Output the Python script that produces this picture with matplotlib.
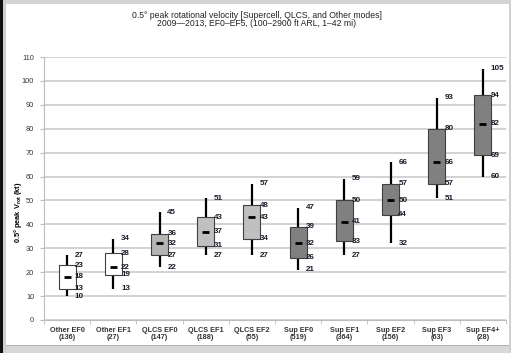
import matplotlib
matplotlib.use("Agg")
import matplotlib.pyplot as plt
from matplotlib.patches import Rectangle
import numpy as np

categories = ["Other EF0", "Other EF1", "QLCS EF0", "QLCS EF1", "QLCS EF2",
              "Sup EF0", "Sup EF1", "Sup EF2", "Sup EF3", "Sup EF4+"]
counts = [136, 27, 147, 188, 55, 519, 364, 156, 63, 28]
whisker_low = [10, 13, 22, 27, 27, 21, 27, 32, 51, 60]
q1 = [13, 19, 27, 31, 34, 26, 33, 44, 57, 69]
median = [18, 22, 32, 37, 43, 32, 41, 50, 66, 82]
q3 = [23, 28, 36, 43, 48, 39, 50, 57, 80, 94]
whisker_high = [27, 34, 45, 51, 57, 47, 59, 66, 93, 105]
fill_colors = ["white", "white", "#b4b4b4", "#c0c0c0", "#c0c0c0",
               "#808080", "#808080", "#808080", "#808080", "#808080"]
yticks = list(range(0, 111, 10))

W, H = 511, 353
fig = plt.figure(figsize=(W / 100, H / 100), dpi=100)
plt.rcParams['font.family'] = ['Liberation Sans', 'DejaVu Sans']

# frame decorations (screenshot border)
fig.patches.append(Rectangle((0, 0), 1, 1, transform=fig.transFigure,
                             facecolor="white", edgecolor="none", zorder=-10))
fig.patches.append(Rectangle((0, 1 - 4 / H), 1, 4 / H, transform=fig.transFigure,
                             facecolor="#d4d4d4", edgecolor="none", zorder=-5))
fig.patches.append(Rectangle((0, 0), 1, 7 / H, transform=fig.transFigure,
                             facecolor="#d8d8d8", edgecolor="none", zorder=-5))
fig.patches.append(Rectangle((0, 7 / H), 1, 1 / H, transform=fig.transFigure,
                             facecolor="#b0b0b0", edgecolor="none", zorder=-5))
fig.patches.append(Rectangle((0, 0), 3 / W, 1, transform=fig.transFigure,
                             facecolor="#111111", edgecolor="none", zorder=-4))
fig.patches.append(Rectangle((3 / W, 0), 3 / W, 1, transform=fig.transFigure,
                             facecolor="#d0d0d0", edgecolor="none", zorder=-4))
fig.patches.append(Rectangle((1 - 2 / W, 0), 2 / W, 1, transform=fig.transFigure,
                             facecolor="#d0d0d0", edgecolor="none", zorder=-4))

left, right = 44 / W, 506 / W
bottom, top = (H - 320) / H, (H - 57) / H
ax = fig.add_axes([left, bottom, right - left, top - bottom])

x = np.arange(len(categories))
ax.set_xlim(-0.5, len(categories) - 0.5)
ax.set_ylim(0, 110)

ax.set_yticks(yticks)
ax.set_yticklabels([str(t) for t in yticks], fontsize=5.3, color="#333333")
ax.yaxis.grid(True, color="#cfcfcf", linewidth=1.3)
ax.set_axisbelow(True)
for s in ["top", "right"]:
    ax.spines[s].set_visible(False)
ax.spines["left"].set_color("#bdbdbd")
ax.spines["bottom"].set_color("#bdbdbd")
ax.tick_params(axis="y", length=3, color="#bdbdbd", pad=4)

ax.set_xticks(x)
ax.set_xticklabels([f"{c}\n({n})" for c, n in zip(categories, counts)],
                   fontsize=5.2, fontweight="bold", color="#333333", linespacing=1.1)
ax.tick_params(axis="x", length=0, pad=5)
ax.set_xticks(np.arange(len(categories) + 1) - 0.5, minor=True)
ax.tick_params(axis="x", which="minor", length=3, color="#bdbdbd")

bw = 0.37
ql = np.array(q1)
qh = np.array(q3)
ax.bar(x, qh - ql, bottom=ql, width=bw, color=fill_colors, edgecolor="#404040",
       linewidth=0.8, zorder=3)
ax.vlines(x, whisker_low, q1, color="black", linewidth=1.6, zorder=2)
ax.vlines(x, q3, whisker_high, color="black", linewidth=1.6, zorder=2)
ax.hlines(median, x - 0.075, x + 0.075, color="black", linewidth=2.0, zorder=4)

for i in range(len(categories)):
    for v in (whisker_low[i], q1[i], median[i], q3[i], whisker_high[i]):
        ax.text(x[i] + 0.17, v, str(v), fontsize=5.8, fontweight="bold",
                color="#1a1a2a", va="center", ha="left", zorder=5)

ax.set_ylabel("0.5° peak V$_\\mathregular{rot}$ (kt)", fontsize=5.3, fontweight="bold")
ax.yaxis.set_label_coords(-0.043, 0.41)

fig.text(0.502, 1 - 15 / H, "0.5° peak rotational velocity [Supercell, QLCS, and Other modes]",
         ha="center", va="center", fontsize=6.2, color="#222222")
fig.text(0.502, 1 - 24 / H, "2009—2013, EF0–EF5, (100–2900 ft ARL, 1–42 mi)",
         ha="center", va="center", fontsize=6.2, color="#222222")

fig.savefig("out.png", dpi=100)
